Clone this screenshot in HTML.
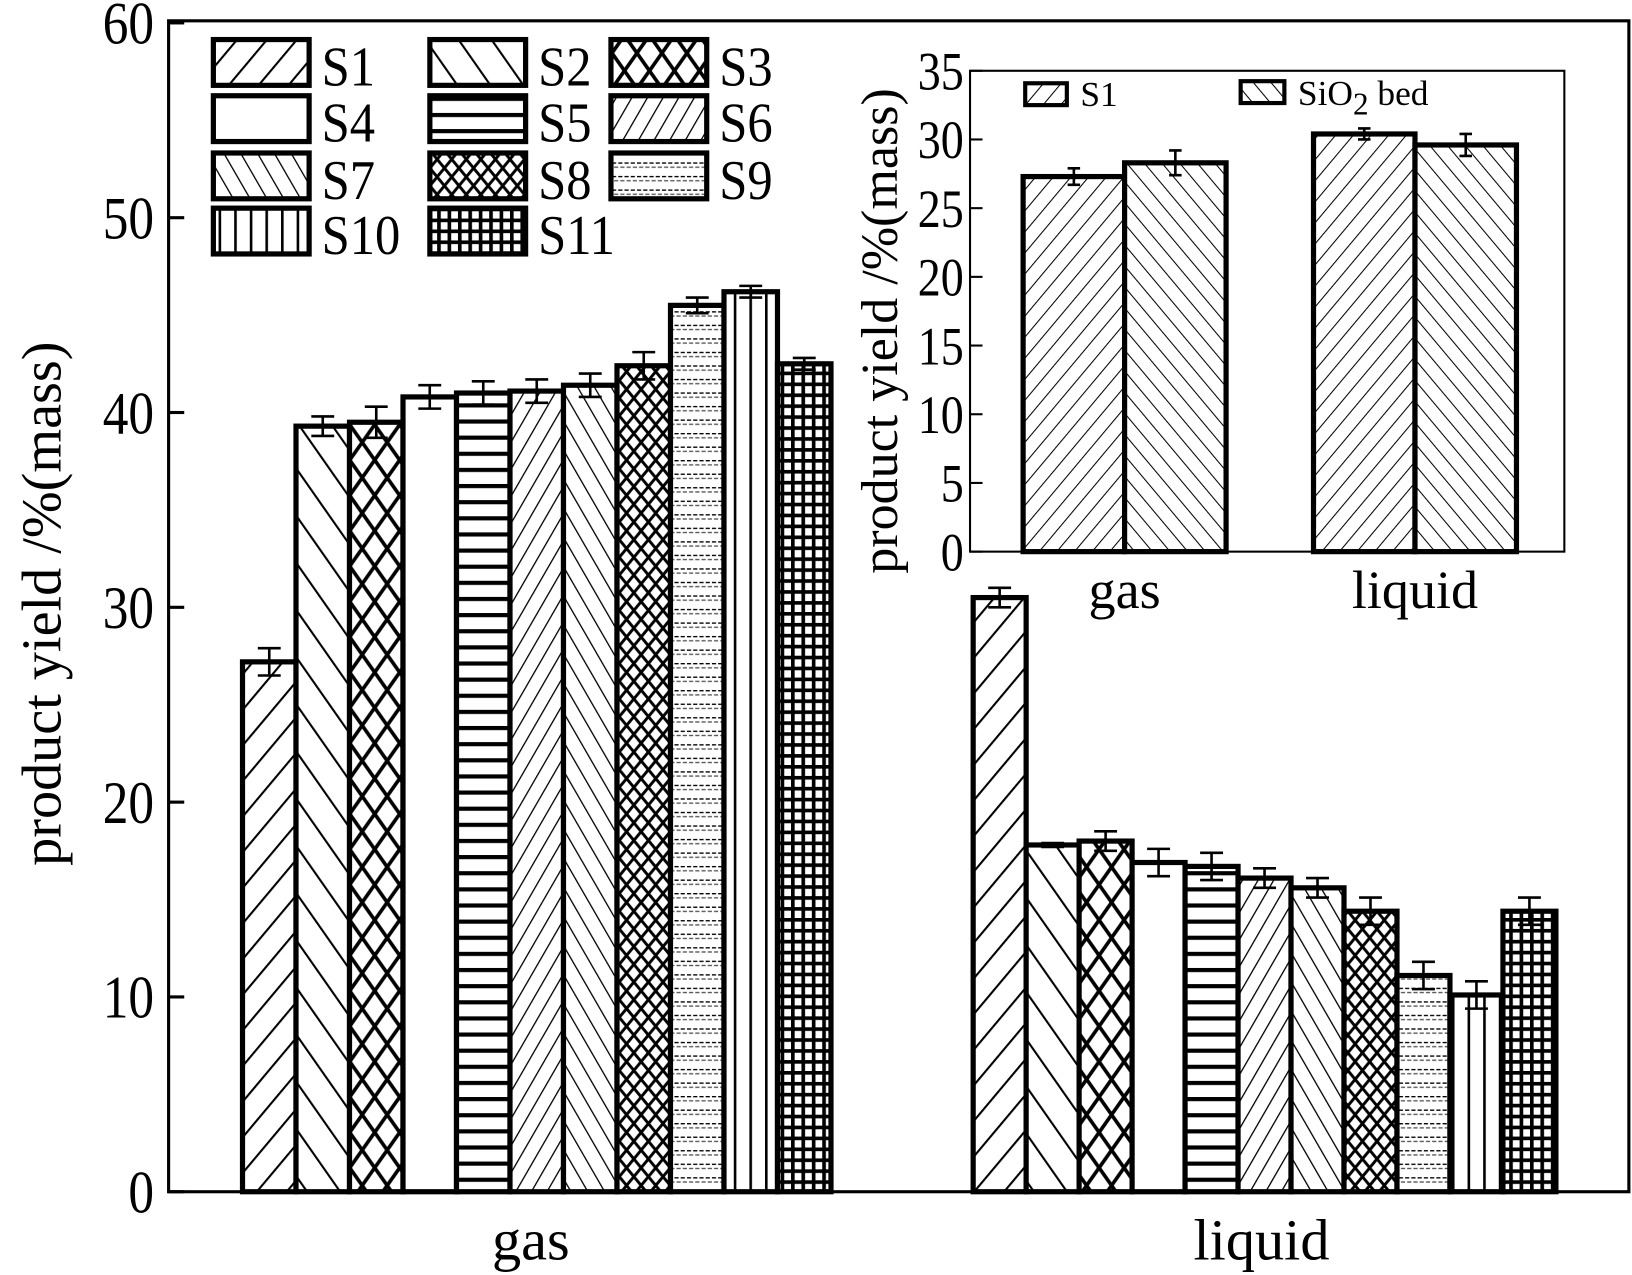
<!DOCTYPE html>
<html><head><meta charset="utf-8"><style>
html,body{margin:0;padding:0;background:#fff}
svg{display:block;font-family:"Liberation Serif","DejaVu Serif",serif}
svg text, svg tspan{font-family:"Liberation Serif","DejaVu Serif",serif;fill:#000}
</style></head><body>
<svg id="chart" width="1632" height="1275" viewBox="0 0 1568 1225" preserveAspectRatio="none" xmlns="http://www.w3.org/2000/svg">
<defs>
<pattern id="p1" patternUnits="userSpaceOnUse" width="22" height="22" patternTransform="rotate(40)"><rect width="22" height="22" fill="#fff"/><line x1="0" y1="0" x2="0" y2="22" stroke="#000" stroke-width="4"/></pattern>
<pattern id="p2" patternUnits="userSpaceOnUse" width="26" height="26" patternTransform="rotate(-35)"><rect width="26" height="26" fill="#fff"/><line x1="0" y1="0" x2="0" y2="26" stroke="#000" stroke-width="4"/></pattern>
<pattern id="p3" patternUnits="userSpaceOnUse" width="24" height="34"><rect width="24" height="34" fill="#fff"/><path d="M0 0L24 34M24 0L0 34" stroke="#000" stroke-width="3.5"/></pattern>
<pattern id="p4" patternUnits="userSpaceOnUse" width="10" height="10"><rect width="10" height="10" fill="#fff"/></pattern>
<pattern id="p5" patternUnits="userSpaceOnUse" width="10" height="15.5"><rect width="10" height="15.5" fill="#fff"/><rect y="0" width="10" height="4" fill="#000"/></pattern>
<pattern id="p6" patternUnits="userSpaceOnUse" width="13" height="13" patternTransform="rotate(30)"><rect width="13" height="13" fill="#fff"/><line x1="0" y1="0" x2="0" y2="13" stroke="#000" stroke-width="2.5"/></pattern>
<pattern id="p7" patternUnits="userSpaceOnUse" width="14" height="14" patternTransform="rotate(-30)"><rect width="14" height="14" fill="#fff"/><line x1="0" y1="0" x2="0" y2="14" stroke="#000" stroke-width="2.5"/></pattern>
<pattern id="p8" patternUnits="userSpaceOnUse" width="14" height="17"><rect width="14" height="17" fill="#fff"/><path d="M0 0L14 17M14 0L0 17" stroke="#000" stroke-width="2.8"/></pattern>
<pattern id="p9" patternUnits="userSpaceOnUse" width="6" height="13"><rect width="6" height="13" fill="#fff"/><rect x="0" y="0" width="4" height="1.3" fill="#000"/><rect x="2" y="4" width="4" height="1.3" fill="#555"/></pattern>
<pattern id="p10" patternUnits="userSpaceOnUse" width="15" height="10"><rect width="15" height="10" fill="#fff"/><rect x="0" width="2.5" height="10" fill="#000"/></pattern>
<pattern id="p11" patternUnits="userSpaceOnUse" width="10" height="10.5"><rect width="10" height="10.5" fill="#fff"/><rect width="3.5" height="10.5" fill="#000"/><rect width="10" height="3.5" fill="#000"/></pattern>
<pattern id="pi1" patternUnits="userSpaceOnUse" width="13" height="13" patternTransform="rotate(40)"><rect width="13" height="13" fill="#fff"/><line x1="0" y1="0" x2="0" y2="13" stroke="#000" stroke-width="2"/></pattern>
<pattern id="pi2" patternUnits="userSpaceOnUse" width="13" height="13" patternTransform="rotate(-40)"><rect width="13" height="13" fill="#fff"/><line x1="0" y1="0" x2="0" y2="13" stroke="#000" stroke-width="2"/></pattern>
</defs>
<g id="main"></g>
<g id="inset"></g>
</svg>
<script>
const categories = ["gas", "liquid"];
const series = ["S1","S2","S3","S4","S5","S6","S7","S8","S9","S10","S11"];
const gasValues = [27.2, 39.3, 39.5, 40.8, 41.0, 41.1, 41.4, 42.4, 45.5, 46.2, 42.5];
const gasErrors = [0.7, 0.5, 0.8, 0.6, 0.6, 0.6, 0.6, 0.7, 0.4, 0.3, 0.3];
const liquidValues = [30.5, 17.8, 18.0, 16.9, 16.7, 16.1, 15.6, 14.4, 11.1, 10.1, 14.4];
const liquidErrors = [0.5, 0.1, 0.5, 0.7, 0.7, 0.5, 0.5, 0.7, 0.7, 0.7, 0.7];
const yTicks = [0, 10, 20, 30, 40, 50, 60];
const insetSeries = ["S1", "SiO2 bed"];
const insetS1 = [27.3, 30.4];
const insetS1Err = [0.6, 0.4];
const insetSiO2 = [28.3, 29.6];
const insetSiO2Err = [0.9, 0.8];
const insetTicks = [0, 5, 10, 15, 20, 25, 30, 35];

const NS = "http://www.w3.org/2000/svg";
const FF = '"Liberation Serif", "DejaVu Serif", serif';
function mk(parent, tag, attrs, txt) {
  const e = document.createElementNS(NS, tag);
  for (const k in attrs) e.setAttribute(k, attrs[k]);
  if (tag === 'text') e.style.fontFamily = FF;
  if (txt !== undefined) e.textContent = txt;
  parent.appendChild(e);
  return e;
}
const main = document.getElementById('main');
const inset = document.getElementById('inset');

const X0 = 162, X1 = 1565, Y0 = 1145, Y1 = 20;
const y = v => Y0 - v / 60 * (Y0 - 22);
const groupStart = [233, 935];
const barW = [51.4, 50.9];
const xBar = (g, i) => groupStart[g] + i * barW[g];

const frame = mk(main, 'rect', {x: X0, y: Y1, width: X1 - X0, height: Y0 - Y1, fill: 'none', stroke: '#000', 'stroke-width': 3});



yTicks.forEach(t => {
  const tk = mk(main, 'line', {x1: X0, x2: X0 + 15, y1: y(t), y2: y(t), stroke: '#000', 'stroke-width': 3});
  
  
  const lb = mk(main, 'text', {x: X0 - 14, y: y(t) + 20, 'font-size': 58, 'text-anchor': 'end', transform: `translate(${X0-14},${y(t)}) scale(0.85,1) translate(${-(X0-14)},${-y(t)})`}, String(t));
  
  
});

const yt = mk(main, 'text', {x: 0, y: 0, 'font-size': 54, 'text-anchor': 'middle', transform: 'translate(58,580) rotate(-90)'}, 'product yield /%(mass)');



[[510, 'gas'], [1212, 'liquid']].forEach(([cx, t]) => {
  const lb = mk(main, 'text', {x: cx, y: 1210, 'font-size': 56, 'text-anchor': 'middle'}, t);
  
  
});

function drawBar(parent, x, w, top, bottom, fill, errTop, errBot, cap) {
  const r = mk(parent, 'rect', {x: x, y: top, width: w, height: bottom - top, fill: fill, stroke: '#000', 'stroke-width': 5});
  
  
  const cx = x + w / 2;
  const e = mk(parent, 'path', {d: `M${cx} ${errTop}V${errBot}M${cx - cap} ${errTop}H${cx + cap}M${cx - cap} ${errBot}H${cx + cap}`, stroke: '#000', 'stroke-width': 2.5, fill: 'none'});
  
  
}

[gasValues, liquidValues].forEach((vals, g) => {
  const errs = g === 0 ? gasErrors : liquidErrors;
  vals.forEach((v, i) => {
    drawBar(main, xBar(g, i), barW[g], y(v), Y0, `url(#p${i + 1})`, y(v + errs[i]), y(v - errs[i]), 11);
  });
});

const legCols = [205, 413, 587];
const legRows = [38, 92, 147, 200];
series.forEach((s, i) => {
  const col = i % 3, row = Math.floor(i / 3);
  const lx = legCols[col], ly = legRows[row];
  const box = mk(main, 'rect', {x: lx, y: ly, width: 92, height: 44, fill: `url(#p${i + 1})`, stroke: '#000', 'stroke-width': 5});
  
  
  const t = mk(main, 'text', {x: lx + 104, y: ly + 44, 'font-size': 54, transform: `translate(${lx+104},0) scale(0.9,1) translate(${-(lx+104)},0)`}, s);
  
  
});

const IX0 = 932, IX1 = 1503, IY0 = 530, IY1 = 68;
const yi = v => IY0 - v / 35 * (IY0 - IY1);
const ibg = mk(inset, 'rect', {x: IX0, y: IY1, width: IX1 - IX0, height: IY0 - IY1, fill: '#fff', stroke: '#000', 'stroke-width': 2});


insetTicks.forEach(t => {
  const tk = mk(inset, 'line', {x1: IX0, x2: IX0 + 12, y1: yi(t), y2: yi(t), stroke: '#000', 'stroke-width': 2});
  
  
  const lb = mk(inset, 'text', {x: IX0 - 6, y: yi(t) + 18, 'font-size': 52, 'text-anchor': 'end', transform: `translate(${IX0-6},0) scale(0.85,1) translate(${-(IX0-6)},0)`}, String(t));
  
  
});
const iyt = mk(inset, 'text', {x: 0, y: 0, 'font-size': 50, 'text-anchor': 'middle', transform: 'translate(862,318) rotate(-90)'}, 'product yield /%(mass)');


const iGroup = [983, 1262];
const iW = 97.5;
categories.forEach((c, g) => {
  drawBar(inset, iGroup[g], iW, yi(insetS1[g]), IY0, 'url(#pi1)', yi(insetS1[g] + insetS1Err[g]), yi(insetS1[g] - insetS1Err[g]), 6);
  drawBar(inset, iGroup[g] + iW, iW, yi(insetSiO2[g]), IY0, 'url(#pi2)', yi(insetSiO2[g] + insetSiO2Err[g]), yi(insetSiO2[g] - insetSiO2Err[g]), 6);
  const lb = mk(inset, 'text', {x: iGroup[g] + iW, y: 584, 'font-size': 52, 'text-anchor': 'middle'}, c);
  
  
});
const il1 = mk(inset, 'rect', {x: 985, y: 80, width: 40, height: 21, fill: 'url(#pi1)', stroke: '#000', 'stroke-width': 4});


const it1 = mk(inset, 'text', {x: 1038, y: 102, 'font-size': 34}, 'S1');


const il2 = mk(inset, 'rect', {x: 1192, y: 78, width: 42, height: 21, fill: 'url(#pi2)', stroke: '#000', 'stroke-width': 4});


const it2 = mk(inset, 'text', {x: 1247, y: 101, 'font-size': 34});


it2.innerHTML = 'SiO<tspan dy="9" font-size="30">2</tspan><tspan dy="-9"> bed</tspan>';
</script>
</body></html>
